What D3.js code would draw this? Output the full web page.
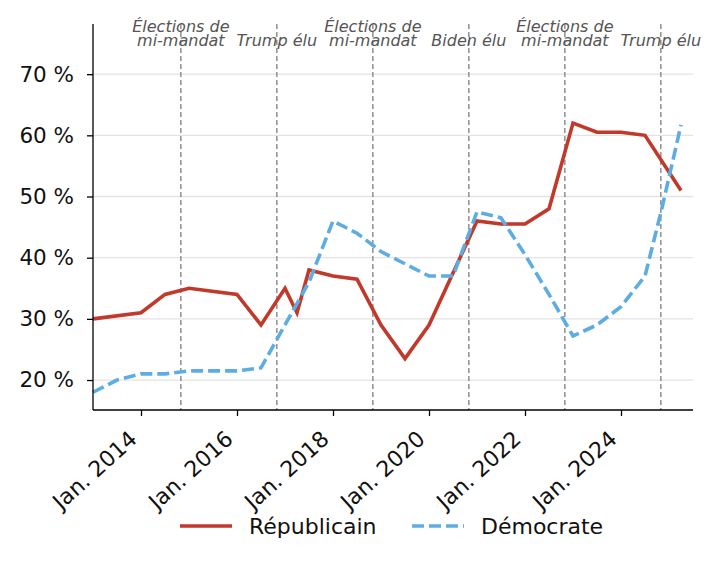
<html>
<head>
    <meta charset="utf-8">
    <title>Républicain / Démocrate</title>
    <script src="https://d3js.org/d3.v7.min.js"></script>
    <style>
        body { margin: 0; background: #fff; }
        text { font-family: "DejaVu Sans", sans-serif; }
        .axis path, .axis line { stroke: black; stroke-width: 1.3; }
        .axis text { font-size: 21.5px; fill: #111; }
        .x.axis text { font-size: 22px; }
        .event-label { font-size: 16px; font-style: italic; fill: #555; }
        .legend-label { font-size: 22px; fill: #111; }
    </style>
</head>
<body>
<div id="vis_container"></div>
<script>
    // years as decimal values (2013.5 = July 2013)
    var repDates  = [2013.0, 2014.0, 2014.5, 2015.0, 2016.0, 2016.5, 2017.0, 2017.25, 2017.5, 2018.0, 2018.5,
                     2019.0, 2019.5, 2020.0, 2020.5, 2021.0, 2021.5, 2022.0, 2022.5, 2023.0, 2023.5, 2024.0, 2024.5, 2025.25];
    var repValues = [30, 31, 34, 35, 34, 29, 35, 31, 38, 37, 36.5,
                     29, 23.5, 29, 37.5, 46, 45.5, 45.5, 48, 62, 60.5, 60.5, 60, 51];

    var demDates  = [2013.0, 2013.5, 2014.0, 2014.5, 2015.0, 2016.0, 2016.5, 2017.0, 2017.5, 2018.0, 2018.5,
                     2019.0, 2019.5, 2020.0, 2020.5, 2021.0, 2021.5, 2022.0, 2022.5, 2023.0, 2023.5, 2024.0, 2024.5, 2024.85, 2025.25];
    var demValues = [18, 20, 21, 21, 21.5, 21.5, 22, 29, 36, 46, 44,
                     41, 39, 37, 37, 47.5, 46.5, 40.5, 34, 27.2, 29, 32, 37, 48, 61.7];

    var eventDates  = [2014.83, 2016.83, 2018.83, 2020.83, 2022.83, 2024.83];
    var eventLabels = [["Élections de", "mi-mandat"], ["Trump élu"], ["Élections de", "mi-mandat"],
                       ["Biden élu"], ["Élections de", "mi-mandat"], ["Trump élu"]];

    var tickYears = [2014, 2016, 2018, 2020, 2022, 2024];
    var tickPercents = [20, 30, 40, 50, 60, 70];

    var seriesNames = ["Républicain", "Démocrate"];
    var seriesColors = ["#c0392b", "#5dade2"];

    var width = 720, height = 566;
    var plotLeft = 93, plotRight = 693, plotTop = 24, plotBottom = 410;

    var svg = d3.select("#vis_container")
            .append("svg")
            .attr("width", width)
            .attr("height", height);

    var x = d3.scaleLinear().domain([2013.0, 2025.5]).range([plotLeft, plotRight]);
    var y = d3.scaleLinear().domain([15.1, 78.2]).range([plotBottom, plotTop]);

    //horizontal grid
    svg.append("g").selectAll("line")
            .data(tickPercents).enter().append("line")
            .attr("x1", plotLeft).attr("x2", plotRight)
            .attr("y1", function(d) { return y(d); })
            .attr("y2", function(d) { return y(d); })
            .style("stroke", "#e3e3e3")
            .style("stroke-width", 1.3);

    //event lines
    svg.append("g").selectAll("line")
            .data(eventDates).enter().append("line")
            .attr("x1", function(d) { return x(d); })
            .attr("x2", function(d) { return x(d); })
            .attr("y1", plotTop).attr("y2", plotBottom)
            .style("stroke", "#888")
            .style("stroke-width", 1.4)
            .style("stroke-dasharray", "5,3");

    //series lines
    var series = [
        {dates: repDates, values: repValues, dash: null},
        {dates: demDates, values: demValues, dash: "12,5"}
    ];
    var line = d3.line()
            .x(function(d) { return x(d[0]); })
            .y(function(d) { return y(d[1]); });

    series.forEach(function(s, i) {
        svg.append("path")
                .datum(d3.zip(s.dates, s.values))
                .attr("d", line)
                .style("fill", "none")
                .style("stroke", seriesColors[i])
                .style("stroke-width", 3.6)
                .style("stroke-linejoin", "miter")
                .style("stroke-dasharray", s.dash);
    });

    //event labels, bottom-aligned
    eventDates.forEach(function(d, i) {
        var lines = eventLabels[i];
        var t = svg.append("text")
                .attr("class", "event-label")
                .attr("text-anchor", "middle");
        lines.forEach(function(l, j) {
            t.append("tspan")
                    .attr("x", x(d))
                    .attr("y", 46 - (lines.length - 1 - j) * 14.5)
                    .text(l);
        });
    });

    //axes
    svg.append("g")
            .attr("class", "x axis")
            .attr("transform", "translate(0," + plotBottom + ")")
            .call(d3.axisBottom(x).tickValues(tickYears).tickSize(6).tickFormat(function(d) { return "Jan. " + d; }))
            .call(function(g) {
                g.select(".domain").attr("d", "M" + plotLeft + ",0H" + plotRight);
                g.selectAll(".tick text")
                        .attr("text-anchor", "end")
                        .attr("dy", null)
                        .attr("y", 0)
                        .attr("transform", "translate(-3,31) rotate(-42)");
            });

    svg.append("g")
            .attr("class", "y axis")
            .attr("transform", "translate(" + plotLeft + ",0)")
            .call(d3.axisLeft(y).tickValues(tickPercents).tickSize(6).tickPadding(13).tickFormat(function(d) { return d + " %"; }))
            .call(function(g) {
                g.select(".domain").attr("d", "M0," + plotTop + "V" + plotBottom);
            });

    //legend
    var legendX = [180, 412];
    seriesNames.forEach(function(name, i) {
        svg.append("line")
                .attr("x1", legendX[i]).attr("x2", legendX[i] + 52)
                .attr("y1", 526).attr("y2", 526)
                .style("stroke", seriesColors[i])
                .style("stroke-width", 3.6)
                .style("stroke-dasharray", series[i].dash);
        svg.append("text")
                .attr("class", "legend-label")
                .attr("x", legendX[i] + 69)
                .attr("y", 534)
                .text(name);
    });
</script>
</body>
</html>
